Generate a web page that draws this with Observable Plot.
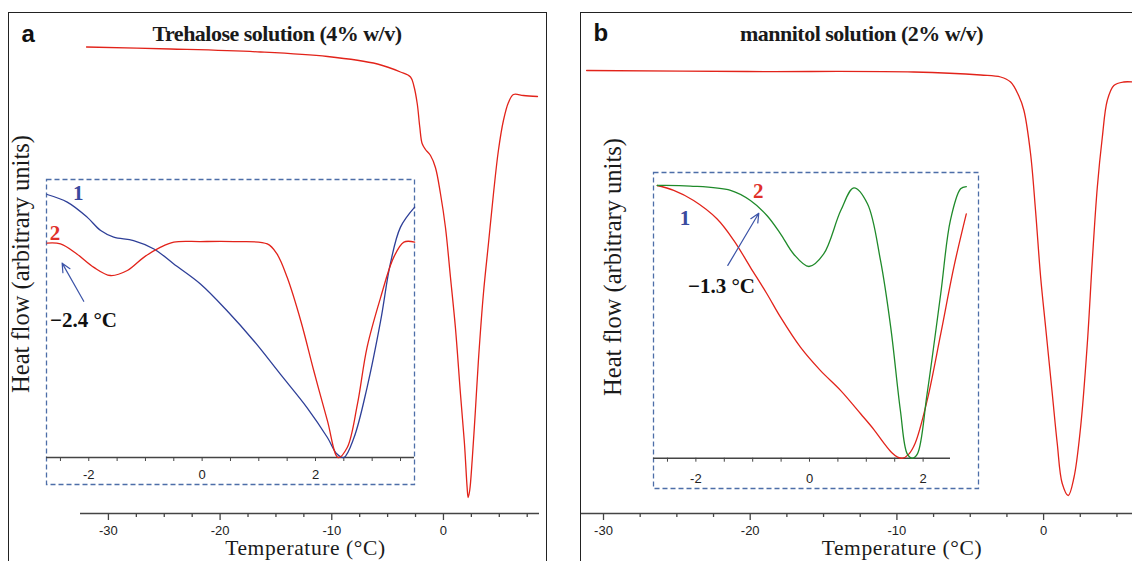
<!DOCTYPE html>
<html><head><meta charset="utf-8">
<script src="https://cdn.jsdelivr.net/npm/d3@7"></script>
<script src="https://cdn.jsdelivr.net/npm/@observablehq/plot@0.6"></script>
<style>
body{margin:0;background:#fff;}
#page{position:relative;width:1132px;height:561px;overflow:hidden;background:#fff;}
.panel{position:absolute;border:1.3px solid #222;box-sizing:border-box;}
#page svg{position:absolute;left:0;top:0;}
#page svg text{font-size:13px;font-family:'Liberation Sans',Arial,sans-serif;}
.t{position:absolute;white-space:nowrap;line-height:1;margin:0;padding:0;}
</style></head><body><div id="page"></div>
<script>
// ---------- DATA ----------
// Panel a: trehalose solution (4% w/v), main DSC trace
const trehaloseTemp = [-31.96,-24.44,-16.38,-10.38,-5.91,-3.85,-2.95,-2.66,-2.35,-2.12,-1.91,-1.61,-1.16,-0.72,-0.27,0.18,0.63,1.07,1.52,1.88,2.12,2.21,2.35,2.57,2.86,3.13,3.58,4.03,4.48,4.92,5.37,5.82,6.27,7.16,8.42];
const trehaloseHeat = [93.3,92.9,92.3,91.4,89.9,88.3,87.3,85.6,82.0,77.3,74.0,72.8,71.6,69.2,64.0,57.2,47.2,37.2,24.0,14.0,5.2,3.2,4.6,10.6,20.6,30.6,44.0,54.0,64.0,72.6,78.6,82.2,83.8,83.6,83.4];
// Panel a inset: curve 1 (blue)
const trehaloseInset1Temp = [-2.735,-2.38,-2.03,-1.79,-1.56,-1.21,-0.85,-0.50,-0.03,0.44,0.91,1.38,1.85,2.21,2.38,2.50,2.68,2.91,3.15,3.32,3.50,3.75];
const trehaloseInset1Heat = [100,97.1,91.4,86.3,83.8,82.5,79.3,73.6,66.0,55.8,44.4,31.7,19.0,7.6,1.3,0,7.6,26.6,52.0,73.6,87.6,95.2];
// Panel a inset: curve 2 (red)
const trehaloseInset2Temp = [-2.735,-2.50,-2.21,-1.91,-1.62,-1.32,-1.03,-0.74,-0.50,-0.03,0.56,1.15,1.32,1.50,1.74,1.97,2.21,2.40,2.56,2.74,2.91,3.15,3.38,3.56,3.75];
const trehaloseInset2Heat = [81.5,81.2,77.4,72.3,69.2,71.1,76.1,79.9,81.9,82.1,82.1,81.2,77.4,68.5,52.0,33.0,14.0,0,3.8,20.3,41.9,60.9,76.1,81.9,81.9];
// Panel b: mannitol solution (2% w/v), main DSC trace
const mannitolTemp = [-31.15,-20.20,-8.86,-4.29,-2.93,-2.25,-1.70,-1.34,-0.89,-0.55,-0.20,0.14,0.59,0.93,1.27,1.68,2.07,2.52,2.98,3.32,3.66,4.00,4.34,4.79,5.47,6.05];
const mannitolHeat = [88.6,88.4,88.3,87.7,87.3,86.3,83.6,80.6,72.0,60.6,47.2,37.2,24.0,14.0,6.0,3.6,7.2,17.2,34.0,50.6,65.2,75.2,82.6,85.6,86.3,86.3];
// Panel b inset: green curve
const mannitolInsetGreenTemp = [-2.68,-2.10,-1.39,-1.04,-0.75,-0.51,-0.28,-0.01,0.25,0.55,0.78,1.02,1.25,1.43,1.60,1.72,1.81,1.90,2.07,2.31,2.48,2.66,2.76];
const mannitolInsetGreenHeat = [100,99.8,98.2,94.5,89.0,82.3,74.9,70.3,74.9,90.8,99.1,93.3,72.5,48.0,17.5,1.6,0,1.6,23.6,60.3,87.2,98.8,99.6];
// Panel b inset: red curve
const mannitolInsetRedTemp = [-2.68,-2.39,-2.04,-1.63,-1.33,-1.04,-0.75,-0.51,-0.16,0.19,0.55,0.90,1.13,1.30,1.45,1.55,1.64,1.74,1.86,2.07,2.31,2.54,2.76];
const mannitolInsetRedHeat = [100,98.2,94.5,87.8,79.8,70.0,60.3,51.7,40.7,32.2,24.8,16.3,10.6,5.8,2.0,0.4,0,1.3,5.5,21.1,45.6,70.0,89.6];
// Tick values
const mainMajorTicks = [-30,-20,-10,0];
const mainMinorTicksA = [-27.5,-25,-22.5,-17.5,-15,-12.5,-7.5,-5,-2.5,2.5,5,7.5];
const mainMinorTicksB = [-27.5,-25,-22.5,-17.5,-15,-12.5,-7.5,-5,-2.5,2.5,5];
const insetMajorTicks = [-2,0,2];
const insetMinorTicksA = [-2.5,-1.5,-1,-0.5,0.5,1,1.5,2.5,3,3.5];
const insetMinorTicksB = [-2.5,-1.5,-1,-0.5,0.5,1,1.5];
// Text
const titleA = "Trehalose solution (4% w/v)";
const titleB = "mannitol solution (2% w/v)";
const yLabel = "Heat flow (arbitrary units)";
const xLabel = "Temperature (°C)";
const onsetA = "−2.4 °C";
const onsetB = "−1.3 °C";

// ---------- RENDER ----------
const RED = "#e2231a", BLUE = "#2e3f98", GREEN = "#1f8a2a", DASH = "#4d6ea8", ARROW = "#3c54a8", AXIS = "#444";
const rows = (T, H) => T.map((t, i) => ({T: t, H: H[i]}));
const page = document.getElementById("page");

for (const [l, w] of [[8, 539], [580, 600]]) {
  const d = document.createElement("div");
  d.className = "panel";
  Object.assign(d.style, {left: l + "px", top: "12px", width: w + "px", height: "600px"});
  page.appendChild(d);
}

const common = {width: 1132, height: 561,
  style: "background:transparent;overflow:visible;font-family:'Liberation Sans',Arial,sans-serif;font-size:13px;"};
function addPlot(opts) { page.appendChild(Plot.plot({...common, ...opts})); }
const fmt = d => String(d);
const lineOpts = (stroke) => ({x: "T", y: "H", stroke, strokeWidth: 1.3, curve: "catmull-rom"});

// Panel a main
addPlot({
  marginLeft: 80, marginRight: 593, marginTop: 13, marginBottom: 48,
  x: {domain: [-32.5, 8.6]}, y: {domain: [0, 100], axis: null},
  marks: [
    Plot.ruleY([0], {stroke: AXIS, strokeWidth: 1.5}),
    Plot.axisX({ticks: mainMinorTicksA, tickSize: 4, tickFormat: () => "", label: null, stroke: AXIS, strokeWidth: 1.3}),
    Plot.axisX({ticks: mainMajorTicks, tickSize: 7, tickPadding: 5, tickFormat: fmt, label: null, stroke: AXIS, strokeWidth: 1.3, color: "#222", fontSize: 13}),
    Plot.line(rows(trehaloseTemp, trehaloseHeat), lineOpts(RED))
  ]
});
// Panel a inset
addPlot({
  marginLeft: 46, marginRight: 718, marginTop: 194, marginBottom: 104,
  x: {domain: [-2.746, 3.747]}, y: {domain: [0, 100], axis: null},
  marks: [
    Plot.frame({stroke: DASH, strokeWidth: 1.3, strokeDasharray: "5,3", insetTop: -15, insetBottom: -27}),
    Plot.ruleY([0], {stroke: AXIS, strokeWidth: 1.5}),
    Plot.axisX({ticks: insetMinorTicksA, tickSize: 4, tickFormat: () => "", label: null, stroke: AXIS}),
    Plot.axisX({ticks: insetMajorTicks, tickSize: 4, tickPadding: 8.5, tickFormat: fmt, label: null, stroke: AXIS, color: "#222", fontSize: 13}),
    Plot.line(rows(trehaloseInset1Temp, trehaloseInset1Heat), lineOpts(BLUE)),
    Plot.line(rows(trehaloseInset2Temp, trehaloseInset2Heat), lineOpts(RED)),
    Plot.arrow([{x1: -2.089, y1: 59.4, x2: -2.470, y2: 73.9}], {x1: "x1", y1: "y1", x2: "x2", y2: "y2", stroke: ARROW, strokeWidth: 1.2, headLength: 12, headAngle: 50})
  ]
});
// Panel b main
addPlot({
  marginLeft: 581, marginRight: 0, marginTop: 13, marginBottom: 48,
  x: {domain: [-31.5, 6.06]}, y: {domain: [0, 100], axis: null},
  marks: [
    Plot.ruleY([0], {stroke: AXIS, strokeWidth: 1.5}),
    Plot.axisX({ticks: mainMinorTicksB, tickSize: 4, tickFormat: () => "", label: null, stroke: AXIS, strokeWidth: 1.3}),
    Plot.axisX({ticks: mainMajorTicks, tickSize: 7, tickPadding: 5, tickFormat: fmt, label: null, stroke: AXIS, strokeWidth: 1.3, color: "#222", fontSize: 13}),
    Plot.line(rows(mannitolTemp, mannitolHeat), lineOpts(RED))
  ]
});
// Panel b inset
addPlot({
  marginLeft: 653, marginRight: 182, marginTop: 185, marginBottom: 103.3,
  x: {domain: [-2.746, 2.482]}, y: {domain: [0, 100], axis: null},
  marks: [
    Plot.frame({stroke: DASH, strokeWidth: 1.3, strokeDasharray: "5,3", insetTop: -13, insetBottom: -30.3, insetRight: -28}),
    Plot.ruleY([0], {stroke: AXIS, strokeWidth: 1.5}),
    Plot.axisX({ticks: insetMinorTicksB, tickSize: 4, tickFormat: () => "", label: null, stroke: AXIS}),
    Plot.axisX({ticks: insetMajorTicks, tickSize: 4, tickPadding: 12, tickFormat: fmt, label: null, stroke: AXIS, color: "#222", fontSize: 13}),
    Plot.line(rows(mannitolInsetRedTemp, mannitolInsetRedHeat), lineOpts(RED)),
    Plot.line(rows(mannitolInsetGreenTemp, mannitolInsetGreenHeat), lineOpts(GREEN)),
    Plot.arrow([{x1: -1.438, y1: 70.7, x2: -0.893, y2: 89.8}], {x1: "x1", y1: "y1", x2: "x2", y2: "y2", stroke: ARROW, strokeWidth: 1.2, headLength: 12, headAngle: 50})
  ]
});

// ---------- TEXT ----------
const SERIF = "'Liberation Serif','Times New Roman',serif", SANS = "'Liberation Sans',Arial,sans-serif";
function txt(s, {x, baseline, size, family = SERIF, weight = "normal", color = "#1a1a1a", anchor = "start", ls = 0, lh = 1}) {
  const m = family === SERIF ? {a: 0.891, d: 0.216} : {a: 0.905, d: 0.212};
  const k = (lh - (m.a + m.d)) / 2 + m.a;
  const d = document.createElement("div");
  d.className = "t";
  d.textContent = s;
  Object.assign(d.style, {left: x + "px", top: (baseline - k * size) + "px", fontSize: size + "px", lineHeight: String(lh),
    fontFamily: family, fontWeight: weight, color, letterSpacing: ls + "px",
    transform: anchor === "middle" ? "translateX(-50%)" : "none"});
  page.appendChild(d);
}
function vtxt(s, {cx, cy, size}) {
  const d = document.createElement("div");
  d.className = "t";
  d.textContent = s;
  Object.assign(d.style, {left: cx + "px", top: cy + "px", fontSize: size + "px", fontFamily: SERIF, color: "#1a1a1a",
    transform: "translate(-50%,-50%) rotate(-90deg)"});
  page.appendChild(d);
}
txt("a", {x: 21.5, baseline: 42, size: 24, family: SANS, weight: "bold", color: "#111"});
txt("b", {x: 593.5, baseline: 41.7, size: 24, family: SANS, weight: "bold", color: "#111"});
txt(titleA, {x: 277, baseline: 41.7, size: 22, weight: "bold", anchor: "middle", ls: -0.5});
txt(titleB, {x: 861.5, baseline: 41.7, size: 22, weight: "bold", anchor: "middle", ls: -0.5});
vtxt(yLabel, {cx: 21.2, cy: 264, size: 24.5});
vtxt(yLabel, {cx: 613, cy: 267, size: 24.5});
txt(xLabel, {x: 305.5, baseline: 556.2, size: 21.5, anchor: "middle", ls: 0.6});
txt(xLabel, {x: 902, baseline: 556.2, size: 21.5, anchor: "middle", ls: 0.6});
txt("1", {x: 78.3, baseline: 201, size: 21, weight: "bold", color: "#3a4a9e", anchor: "middle"});
txt("2", {x: 55, baseline: 240.4, size: 21, weight: "bold", color: "#e0302a", anchor: "middle"});
txt(onsetA, {x: 50, baseline: 328, size: 21, weight: "bold", color: "#111"});
txt("1", {x: 685, baseline: 225.4, size: 21, weight: "bold", color: "#3a4a9e", anchor: "middle"});
txt("2", {x: 758.3, baseline: 198.8, size: 21, weight: "bold", color: "#e0302a", anchor: "middle"});
txt(onsetB, {x: 688, baseline: 294, size: 21, weight: "bold", color: "#111"});
</script>
</body></html>
